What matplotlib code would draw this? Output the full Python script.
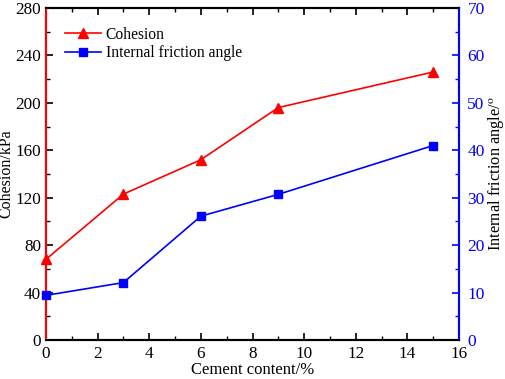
import matplotlib.pyplot as plt
from matplotlib.ticker import MultipleLocator

plt.rcParams['font.family'] = ['Liberation Serif', 'DejaVu Serif']
plt.rcParams['mathtext.fontset'] = 'stix'

cement = [0, 3, 6, 9, 15]
cohesion = [68, 123, 152, 196, 226]
friction = [9.4, 12.1, 26.1, 30.7, 41.0]

fig, ax = plt.subplots(figsize=(5.05, 3.79), dpi=100)
fig.subplots_adjust(left=0.091, right=0.909, top=0.979, bottom=0.103)
ax2 = ax.twinx()

l1, = ax.plot(cement, cohesion, color='red', marker='^', markersize=7, lw=1.2,
              label='Cohesion', clip_on=False, zorder=5)
l2, = ax2.plot(cement, friction, color='blue', marker='s', markersize=5.5, lw=1.2,
               label='Internal friction angle', clip_on=False, zorder=5)

ax.set_xlim(0, 16)
ax.set_ylim(0, 280)
ax2.set_ylim(0, 70)
ax.xaxis.set_major_locator(MultipleLocator(2))
ax.xaxis.set_minor_locator(MultipleLocator(1))
ax.yaxis.set_major_locator(MultipleLocator(40))
ax.yaxis.set_minor_locator(MultipleLocator(20))
ax2.yaxis.set_major_locator(MultipleLocator(10))
ax2.yaxis.set_minor_locator(MultipleLocator(5))

ax.tick_params(axis='both', which='both', direction='in', labelsize=12.3)
ax.tick_params(which='major', length=5, width=1.2)
ax.tick_params(which='minor', length=3, width=1)
ax.tick_params(axis='x', top=True, which='both', pad=4)
ax.tick_params(axis='y', colors='black', pad=3.5)
for t in ax.yaxis.get_ticklines(minor=False) + ax.yaxis.get_ticklines(minor=True):
    t.set_color('red')
ax2.tick_params(axis='y', which='both', direction='in', colors='blue', labelsize=12.5, pad=6)
ax2.tick_params(which='major', length=5, width=1.2)
ax2.tick_params(which='minor', length=3, width=1)

for a in (ax, ax2):
    a.spines['left'].set_color('red')
    a.spines['right'].set_color('blue')
    for s in a.spines.values():
        s.set_linewidth(1.5)

ax.set_xlabel('Cement content/%', fontsize=12, labelpad=0)
ax.set_ylabel('Cohesion/kPa', fontsize=11.5)
ax.yaxis.set_label_coords(-0.076, 0.5)
ax2.set_ylabel('Internal friction angle/$^{\\mathrm{o}}$', fontsize=11.8, labelpad=1)

ax.legend([l1, l2], ['Cohesion', 'Internal friction angle'], loc='upper left',
          bbox_to_anchor=(0.013, 0.985), frameon=False, fontsize=11.2, handlelength=2.3,
          handletextpad=0.3, labelspacing=0.15)

fig.savefig('out.png', dpi=100)
